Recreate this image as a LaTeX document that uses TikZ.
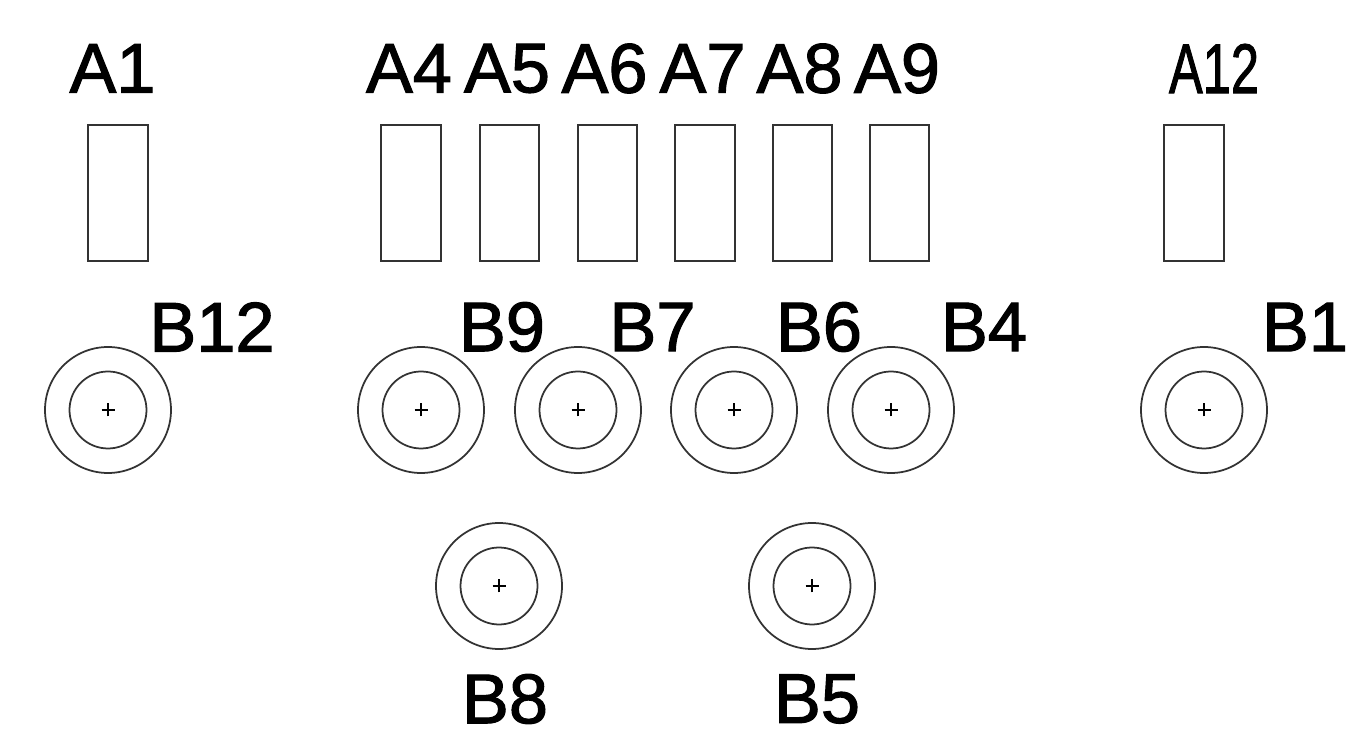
\documentclass[tikz,border=0pt]{standalone}
\usepackage{fontspec}
\setmainfont{Liberation Sans}
\newfontfamily\padfont[FakeBold=1.6]{Liberation Sans}
\tikzset{>=latex}
\tikzset{
  padbox/.style={draw=black!80,line width=1pt,inner sep=0pt,minimum width=1.19cm,minimum height=2.72cm},
  padlabel/.style={inner sep=0pt,font=\padfont\fontsize{40}{40}\selectfont,text=black},
  holeouter/.style={circle,draw=black!80,line width=1pt,inner sep=0pt,minimum size=2.52cm},
  holeinner/.style={circle,draw=black!80,line width=1pt,inner sep=0pt,minimum size=1.54cm},
  holemark/.style={draw=black,line width=0.7pt}
}
\newcommand{\holeat}[2]{%
  \node[holeouter] (#1o) at (#2) {};
  \node[holeinner] (#1i) at (#2) {};
  \draw[holemark] ($(#2)+(-0.13,0)$) -- ($(#2)+(0.13,0)$);
  \draw[holemark] ($(#2)+(0,-0.13)$) -- ($(#2)+(0,0.13)$);
}
\usetikzlibrary{calc}
\begin{document}
\begin{tikzpicture}
  \useasboundingbox (0,0) rectangle (27.4,14.9);
  % top row
  \node[padbox] (a1) at (2.36,11.04) {};
  \node[padbox] (a4) at (8.22,11.04) {};
  \node[padbox] (a5) at (10.19,11.04) {};
  \node[padbox] (a6) at (12.15,11.04) {};
  \node[padbox] (a7) at (14.10,11.04) {};
  \node[padbox] (a8) at (16.05,11.04) {};
  \node[padbox] (a9) at (17.99,11.04) {};
  \node[padbox] (a12) at (23.88,11.04) {};
  \node[padlabel] (la1) at (2.25,13.53) {A1};
  \node[padlabel] (la4) at (8.18,13.53) {A4};
  \node[padlabel] (la5) at (10.14,13.53) {A5};
  \node[padlabel] (la6) at (12.09,13.53) {A6};
  \node[padlabel] (la7) at (14.05,13.53) {A7};
  \node[padlabel] (la8) at (15.99,13.53) {A8};
  \node[padlabel] (la9) at (17.94,13.53) {A9};
  \node[padlabel,xscale=0.72] (la12) at (24.28,13.53) {A12};
  % middle row
  \holeat{b12}{2.16,6.70}
  \holeat{b9}{8.42,6.70}
  \holeat{b7}{11.56,6.70}
  \holeat{b6}{14.68,6.70}
  \holeat{b4}{17.82,6.70}
  \holeat{b1}{24.08,6.70}
  \node[padlabel] (lb12) at (4.24,8.36) {B12};
  \node[padlabel] (lb9) at (10.04,8.36) {B9};
  \node[padlabel] (lb7) at (13.05,8.36) {B7};
  \node[padlabel] (lb6) at (16.38,8.36) {B6};
  \node[padlabel] (lb4) at (19.68,8.36) {B4};
  \node[padlabel] (lb1) at (26.10,8.36) {B1};
  % bottom row
  \holeat{b8}{9.98,3.18}
  \holeat{b5}{16.24,3.18}
  \node[padlabel] (lb8) at (10.10,0.92) {B8};
  \node[padlabel] (lb5) at (16.34,0.92) {B5};
\end{tikzpicture}
\end{document}
